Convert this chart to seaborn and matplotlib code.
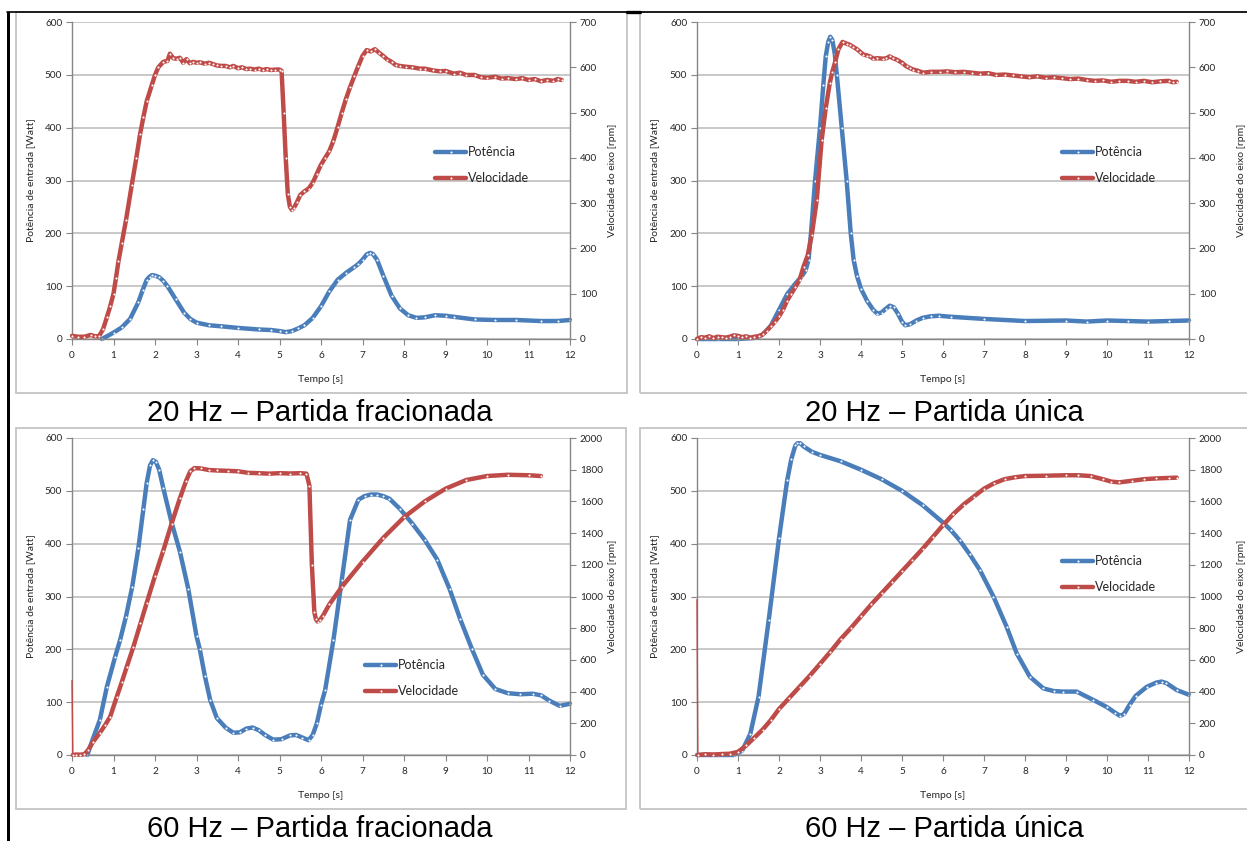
import matplotlib
matplotlib.use("Agg")
import matplotlib.pyplot as plt
from matplotlib.lines import Line2D
from matplotlib.patches import Rectangle
import seaborn as sns

sns.set_theme(style="white")
plt.rcParams['font.family'] = ['Lato', 'DejaVu Sans']

# ---------------- 20 Hz - Partida fracionada ----------------
t_20f_pot = [0.72, 1.0, 1.2, 1.4, 1.6, 1.7, 1.8, 1.87, 1.93, 2.0, 2.1, 2.2, 2.3, 2.5, 2.7,
             2.85, 3.0, 3.3, 3.6, 4.0, 4.5, 4.8, 5.0, 5.15, 5.3, 5.45, 5.6, 5.8, 6.0, 6.2,
             6.4, 6.6, 6.8, 6.9, 7.0, 7.1, 7.18, 7.25, 7.35, 7.5, 7.7, 7.9, 8.1, 8.3, 8.5,
             8.75, 9.0, 9.2, 9.7, 10.2, 10.7, 11.3, 11.7, 12.0]
p_20f_pot = [0, 12, 22, 38, 70, 92, 112, 118, 121, 120, 117, 110, 100, 75, 50,
             38, 31, 26, 24, 21, 18, 17, 15, 13, 15, 20, 26, 40, 62, 90,
             112, 125, 136, 142, 150, 160, 163, 161, 150, 120, 82, 58, 45, 40, 41,
             45, 44, 42, 37, 36, 36, 34, 34, 36]
t_20f_vel = [0, 0.15, 0.3, 0.45, 0.55, 0.65, 0.75, 0.84, 0.92, 1.0, 1.06, 1.12, 1.2, 1.3, 1.44,
             1.55, 1.64, 1.72, 1.8, 1.92, 2.0, 2.08, 2.2, 2.3, 2.36, 2.44, 2.52, 2.6, 2.68,
             2.76, 2.84, 2.92, 3.0, 3.08, 3.2, 3.3, 3.4, 3.49, 3.6, 3.7, 3.8, 3.89, 4.0, 4.1,
             4.2, 4.29, 4.4, 4.5, 4.6, 4.69, 4.8, 4.9, 5.0, 5.05, 5.1, 5.15, 5.2, 5.25, 5.3,
             5.35, 5.42, 5.5, 5.6, 5.7, 5.8, 5.9, 6.0, 6.1, 6.2, 6.3, 6.4, 6.5, 6.6, 6.7, 6.8,
             6.9, 7.0, 7.1, 7.2, 7.3, 7.4, 7.5, 7.6, 7.7, 7.8, 7.9, 8.06, 8.2, 8.38, 8.5, 8.7,
             8.87, 9.0, 9.2, 9.35, 9.5, 9.7, 9.85, 10.0, 10.2, 10.35, 10.5, 10.7, 10.85, 11.0,
             11.15, 11.3, 11.45, 11.6, 11.7, 11.8]
r_20f_vel = [7, 5, 5, 9, 6, 6, 22, 48, 72, 100, 135, 172, 212, 262, 340,
             400, 452, 490, 525, 560, 583, 600, 612, 614, 630, 620, 619, 621, 610,
             618, 609, 612, 610, 611, 608, 610, 607, 604, 603, 603, 600, 603, 598, 600,
             596, 597, 595, 597, 594, 596, 594, 595, 595, 592, 500, 400, 320, 292, 285,
             290, 302, 318, 326, 332, 345, 365, 385, 400, 415, 438, 468, 500, 530, 556, 580,
             603, 625, 638, 635, 640, 632, 625, 617, 612, 605, 603, 601, 600, 597, 597, 593,
             591, 592, 586, 588, 583, 583, 578, 577, 579, 575, 576, 574, 576, 572,
             574, 569, 572, 570, 574, 572]

# ---------------- 20 Hz - Partida única ----------------
t_20u_pot = [0, 0.5, 1.0, 1.4, 1.6, 1.8, 2.0, 2.2, 2.4, 2.55, 2.65, 2.72, 2.78, 2.88, 3.0,
             3.08, 3.14, 3.2, 3.25, 3.3, 3.36, 3.41, 3.53, 3.65, 3.75, 3.82, 3.9, 4.0, 4.15,
             4.3, 4.4, 4.5, 4.6, 4.7, 4.8, 4.9, 5.0, 5.08, 5.2, 5.35, 5.5, 5.7, 5.9, 6.2,
             7.0, 8.0, 9.0, 9.5, 10.0, 10.5, 11.0, 11.5, 12.0]
p_20u_pot = [0, 0, 0, 2, 8, 25, 55, 85, 105, 118, 130, 150, 200, 300, 400,
             480, 535, 562, 572, 566, 540, 500, 400, 300, 200, 150, 120, 95, 72,
             55, 48, 50, 57, 63, 60, 48, 33, 26, 28, 35, 40, 43, 44, 42,
             38, 34, 35, 33, 35, 34, 33, 34, 35]
t_20u_vel = [0, 0.1, 0.2, 0.3, 0.4, 0.5, 0.6, 0.7, 0.8, 0.9, 1.0, 1.1, 1.2, 1.3, 1.4, 1.5,
             1.6, 1.7, 1.8, 1.9, 2.0, 2.1, 2.2, 2.3, 2.4, 2.5, 2.6, 2.7, 2.8, 2.92, 3.04,
             3.14, 3.24, 3.3, 3.37, 3.45, 3.55, 3.65, 3.72, 3.81, 3.9, 3.98, 4.06, 4.15,
             4.22, 4.3, 4.4, 4.54, 4.62, 4.7, 4.78, 4.87, 5.0, 5.11, 5.2, 5.27, 5.4, 5.52,
             5.7, 5.93, 6.1, 6.3, 6.5, 6.7, 6.9, 7.1, 7.3, 7.5, 7.7, 7.9, 8.1, 8.3, 8.5,
             8.7, 8.9, 9.1, 9.3, 9.5, 9.7, 9.9, 10.1, 10.3, 10.5, 10.7, 10.9, 11.1, 11.3,
             11.5, 11.6, 11.7]
r_20u_vel = [0, 4, 3, 6, 2, 5, 4, 3, 5, 8, 7, 4, 6, 3, 5, 6,
             10, 18, 28, 38, 50, 65, 85, 100, 115, 130, 160, 185, 230, 306, 439,
             510, 566, 590, 612, 640, 656, 652, 650, 645, 640, 634, 628, 626,
             624, 619, 620, 619, 620, 624, 620, 617, 610, 602, 598, 595, 592, 588,
             590, 590, 591, 589, 590, 588, 586, 587, 583, 584, 582, 580, 578, 580, 577,
             578, 576, 574, 575, 572, 570, 571, 568, 570, 570, 568, 570, 567, 569,
             570, 567, 568]

# ---------------- 60 Hz - Partida fracionada ----------------
t_60f_pot = [0.37, 0.5, 0.67, 0.84, 1.04, 1.16, 1.3, 1.45, 1.6, 1.72, 1.8, 1.88, 1.95, 2.02,
             2.1, 2.2, 2.4, 2.6, 2.8, 3.0, 3.08, 3.2, 3.33, 3.49, 3.7, 3.89, 4.05, 4.2, 4.35,
             4.5, 4.65, 4.85, 5.05, 5.25, 5.4, 5.55, 5.7, 5.8, 5.9, 6.0, 6.1, 6.3, 6.5, 6.7,
             6.9, 7.05, 7.2, 7.35, 7.5, 7.65, 7.9, 8.2, 8.5, 8.8, 9.1, 9.35, 9.64, 9.9, 10.2,
             10.5, 10.8, 11.1, 11.3, 11.5, 11.75, 12.0]
p_60f_pot = [0, 30, 66, 129, 186, 218, 262, 318, 392, 466, 515, 548, 558, 555,
             540, 505, 440, 385, 315, 225, 200, 150, 104, 70, 52, 42, 43, 50, 52,
             47, 38, 29, 30, 37, 38, 33, 28, 38, 60, 95, 123, 218, 331, 445,
             483, 490, 493, 493, 490, 485, 466, 438, 407, 370, 314, 258, 200, 152, 125,
             117, 115, 116, 113, 103, 93, 97]
t_60f_vel = [0, 0.02, 0.1, 0.2, 0.3, 0.39, 0.5, 0.67, 0.8, 0.92, 1.08, 1.2, 1.32, 1.48,
             1.65, 1.8, 2.0, 2.2, 2.4, 2.6, 2.75, 2.85, 2.95, 3.1, 3.3, 3.5, 3.75, 4.0, 4.25,
             4.5, 4.75, 5.0, 5.25, 5.5, 5.65, 5.72, 5.78, 5.84, 5.88, 5.92, 5.97, 6.05, 6.2,
             6.5, 7.0, 7.5, 8.0, 8.5, 9.0, 9.5, 10.0, 10.5, 11.0, 11.3]
r_60f_vel = [470, 0, 3, 2, 5, 32, 80, 139, 190, 242, 368, 460, 557, 683,
             830, 960, 1130, 1290, 1460, 1620, 1730, 1790, 1810, 1808, 1798, 1795, 1793, 1790, 1780,
             1778, 1775, 1778, 1776, 1778, 1775, 1700, 1200, 900, 855, 842, 850, 880, 950,
             1060, 1220, 1370, 1500, 1600, 1680, 1735, 1760, 1768, 1765, 1760]

# ---------------- 60 Hz - Partida única ----------------
t_60u_pot = [0, 0.5, 0.9, 1.1, 1.3, 1.5, 1.75, 2.0, 2.2, 2.3, 2.4, 2.45, 2.52, 2.6, 2.8, 3.0,
             3.5, 4.0, 4.5, 5.0, 5.5, 6.0, 6.2, 6.41, 6.65, 6.9, 7.23, 7.55, 7.8, 8.12, 8.45,
             8.7, 8.93, 9.26, 9.67, 9.99, 10.2, 10.32, 10.42, 10.55, 10.7, 10.97, 11.2, 11.33,
             11.45, 11.7, 12.0]
p_60u_pot = [0, 0, 0, 8, 40, 110, 256, 410, 520, 560, 586, 590, 590, 584, 574, 568,
             556, 540, 522, 500, 473, 440, 425, 406, 380, 350, 300, 243, 192, 148, 126,
             121, 120, 120, 104, 91, 80, 74, 78, 95, 112, 129, 137, 139,
             136, 123, 114]
t_60u_vel = [0, 0.02, 0.2, 0.4, 0.6, 0.8, 1.0, 1.2, 1.4, 1.6, 1.8, 2.0, 2.25, 2.5, 2.75,
             3.0, 3.25, 3.5, 3.75, 4.0, 4.25, 4.5, 4.75, 5.0, 5.25, 5.5, 5.75, 6.0, 6.25,
             6.5, 6.75, 7.0, 7.25, 7.5, 7.75, 8.0, 8.5, 9.0, 9.3, 9.6, 9.9, 10.1, 10.3,
             10.6, 10.9, 11.2, 11.5, 11.7]
r_60u_vel = [980, 0, 5, 3, 6, 8, 20, 60, 110, 160, 220, 290, 360, 430, 500,
             575, 650, 730, 800, 875, 950, 1020, 1090, 1160, 1230, 1300, 1375, 1450, 1520,
             1580, 1630, 1680, 1715, 1740, 1752, 1760, 1762, 1765, 1765, 1760, 1740, 1725, 1720,
             1730, 1740, 1745, 1748, 1750]

captions = ["20 Hz \u2013 Partida fracionada", "20 Hz \u2013 Partida \u00fanica",
            "60 Hz \u2013 Partida fracionada", "60 Hz \u2013 Partida \u00fanica"]
series_names = ["Pot\u00eancia", "Velocidade"]
x_ticks = list(range(0, 13))
p_ticks = list(range(0, 601, 100))
rpm_ticks_20 = list(range(0, 701, 100))
rpm_ticks_60 = list(range(0, 2001, 200))

W, H = 1247, 841
BLUE = "#4A7EBB"
RED = "#BE4B48"
AXC = "#868686"
GRID = "#BFBFBF"
TXT = "#262626"
LW = 3.2
MS = 1.5

fig = plt.figure(figsize=(W / 100, H / 100), dpi=100)
fig.patch.set_facecolor("white")


def fx(x):
    return x / W


def fy(y):
    return 1 - y / H


def draw_series(ax, t, v, color, spike=False):
    kw = dict(color=color, linewidth=LW, marker="o", markersize=MS,
              markerfacecolor="white", markeredgecolor="white", markeredgewidth=0,
              sort=False, estimator=None, legend=False, ax=ax)
    if spike:
        # the logger's first sample, joined to the rest by a hairline
        sns.lineplot(x=t[:2], y=v[:2], color=color, linewidth=1.0, sort=False,
                     estimator=None, legend=False, ax=ax)
        sns.lineplot(x=t[1:], y=v[1:], **kw)
    else:
        sns.lineplot(x=t, y=v, **kw)
    for ln in ax.lines:
        ln.set_clip_on(False)


panels = [
    dict(rect=(72, 22, 570, 339), pot=(t_20f_pot, p_20f_pot), vel=(t_20f_vel, r_20f_vel),
         rticks=rpm_ticks_20, spike=False, leg=(435, 146), ylab_l=35, ylab_r=608),
    dict(rect=(697, 22, 1189, 339), pot=(t_20u_pot, p_20u_pot), vel=(t_20u_vel, r_20u_vel),
         rticks=rpm_ticks_20, spike=False, leg=(1062, 146), ylab_l=659, ylab_r=1237),
    dict(rect=(72, 438, 570, 755), pot=(t_60f_pot, p_60f_pot), vel=(t_60f_vel, r_60f_vel),
         rticks=rpm_ticks_60, spike=True, leg=(365, 659), ylab_l=35, ylab_r=608),
    dict(rect=(697, 438, 1189, 755), pot=(t_60u_pot, p_60u_pot), vel=(t_60u_vel, r_60u_vel),
         rticks=rpm_ticks_60, spike=True, leg=(1062, 555), ylab_l=659, ylab_r=1237),
]

for p in panels:
    l, t, r, b = p["rect"]
    wpx, hpx = r - l, b - t
    ax = fig.add_axes([fx(l), fy(b), wpx / W, hpx / H])
    ax2 = ax.twinx()

    draw_series(ax, *p["pot"], BLUE)
    draw_series(ax2, *p["vel"], RED, spike=p["spike"])

    ax.set_xlim(0, 12)
    ax.set_ylim(0, 600)
    ax2.set_ylim(0, p["rticks"][-1])
    ax.set_xticks(x_ticks)
    ax.set_yticks(p_ticks)
    ax2.set_yticks(p["rticks"])

    ax.set_axisbelow(True)
    ax.yaxis.grid(True, color=GRID, linewidth=1.2)
    ax.xaxis.grid(False)
    ax2.grid(False)

    for s in ("left", "bottom"):
        ax.spines[s].set_color(AXC)
        ax.spines[s].set_linewidth(1.0)
    ax.spines["top"].set_visible(False)
    ax.spines["right"].set_visible(False)
    for s in ("left", "bottom", "top"):
        ax2.spines[s].set_visible(False)
    ax2.spines["right"].set_color(AXC)
    ax2.spines["right"].set_linewidth(1.0)

    ax.tick_params(axis="y", direction="out", length=4, width=0.8, color=AXC,
                   labelsize=7.2, labelcolor=TXT, pad=3, left=True)
    ax.tick_params(axis="x", direction="out", length=4, width=0.8, color=AXC,
                   labelsize=7.2, labelcolor=TXT, pad=5, bottom=True)
    ax2.tick_params(axis="y", direction="out", length=4, width=0.8, color=AXC,
                    labelsize=7.2, labelcolor=TXT, pad=3, right=True)

    ax.set_xlabel("Tempo [s]", fontsize=7.5, color=TXT, fontweight="normal")
    ax.set_ylabel("Pot\u00eancia de entrada [Watt]", fontsize=7.5, color=TXT,
                  fontweight="normal")
    ax2.set_ylabel("Velocidade do eixo [rpm]", fontsize=7.5, color=TXT,
                   fontweight="normal")
    ax.xaxis.set_label_coords(0.5, -36 / hpx)
    ax.yaxis.set_label_coords((p["ylab_l"] - l) / wpx, 0.5)
    ax2.yaxis.set_label_coords((p["ylab_r"] - l) / wpx, 0.5)

    handles = [Line2D([], [], color=c, linewidth=LW, marker="o", markersize=MS,
                      markerfacecolor="white", markeredgecolor="white", markeredgewidth=0)
               for c in (BLUE, RED)]
    lx, ly = p["leg"]
    leg = ax2.legend(handles, series_names, loc="upper left",
                     bbox_to_anchor=((lx - l) / wpx, (b - ly) / hpx),
                     frameon=False, fontsize=9, handlelength=2.5, handletextpad=0.1,
                     labelspacing=1.12, borderpad=0, borderaxespad=0, numpoints=1)
    for txt in leg.get_texts():
        txt.set_color(TXT)

# chart frames
BOX = "#C4C4C4"
for (x0, y0, x1, y1) in [(16, 12, 627, 393), (640, 12, 1252, 393),
                         (16, 428, 626, 809), (640, 428, 1252, 809)]:
    fig.add_artist(Rectangle((fx(x0), fy(y1)), (x1 - x0) / W, (y1 - y0) / H,
                             transform=fig.transFigure, fill=False,
                             edgecolor=BOX, linewidth=1.3))

# table border
fig.add_artist(Rectangle((fx(7), 0), 3 / W, fy(12), transform=fig.transFigure,
                         facecolor="black", edgecolor="none"))
fig.add_artist(Line2D([fx(7), 1], [fy(12), fy(12)], transform=fig.transFigure,
                      color="black", linewidth=1.2))
fig.add_artist(Line2D([fx(627), fx(640)], [fy(12), fy(12)], transform=fig.transFigure,
                      color="black", linewidth=2.4))

# captions
for text, (cx, cy) in zip(captions, [(320, 421), (944, 421), (320, 837), (944, 837)]):
    fig.text(fx(cx), fy(cy), text, ha="center", va="baseline", fontsize=21,
             family=["Liberation Sans", "DejaVu Sans"], color="black")

fig.savefig("out.png", dpi=100, facecolor="white")
